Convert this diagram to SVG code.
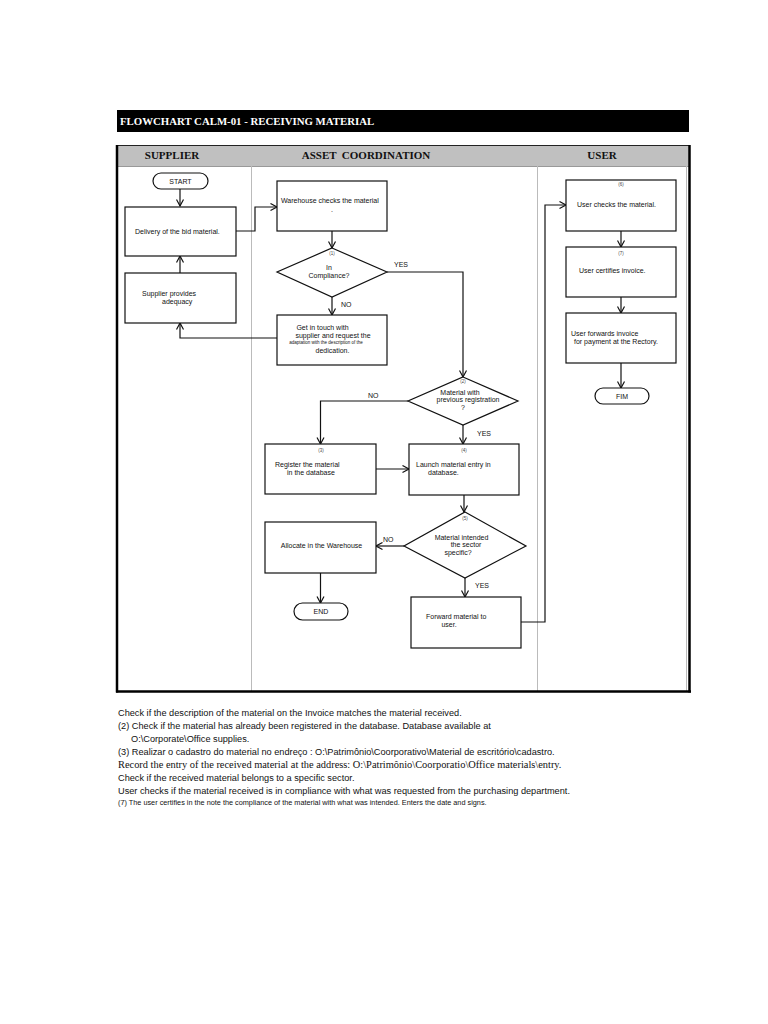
<svg xmlns="http://www.w3.org/2000/svg" width="768" height="1024" viewBox="0 0 768 1024">
<defs>
<marker id="arr" markerWidth="9" markerHeight="9" refX="7.5" refY="4.5" orient="auto" markerUnits="userSpaceOnUse">
<path d="M1,1 L7.5,4.5 L1,8" fill="none" stroke="#111" stroke-width="1.2"/>
</marker>
</defs>
<style>
.box{fill:#fff;stroke:#111;stroke-width:1.2}
.t{font-family:"Liberation Sans",Arial,sans-serif;font-size:7px;fill:#111}
.s{font-family:"Liberation Sans",Arial,sans-serif;font-size:4.5px;fill:#444}
.c{text-anchor:middle}
.lbl{font-family:"Liberation Sans",Arial,sans-serif;font-size:7px;fill:#111}
.hd{font-family:"Liberation Serif","Times New Roman",serif;font-weight:bold;font-size:11px;fill:#111;text-anchor:middle}
.fn{font-family:"Liberation Sans",Arial,sans-serif;font-size:9.2px;fill:#111}
.fns{font-family:"Liberation Serif","Times New Roman",serif;font-size:10.4px;fill:#111}
.conn{fill:none;stroke:#111;stroke-width:1.2}
</style>
<rect width="768" height="1024" fill="#fff"/>

<!-- title -->
<rect x="117" y="110" width="572" height="22" fill="#000"/>
<text x="120" y="125" font-family="Liberation Serif,'Times New Roman',serif" font-weight="bold" font-size="10.8" fill="#fff">FLOWCHART CALM-01 - RECEIVING MATERIAL</text>

<!-- table -->
<rect x="117" y="145" width="572" height="21" fill="#c0c0c0"/>
<line x1="117" y1="145.5" x2="689" y2="145.5" stroke="#222" stroke-width="1"/>
<line x1="117" y1="166.5" x2="689" y2="166.5" stroke="#999" stroke-width="1"/>
<line x1="251.5" y1="166" x2="251.5" y2="691" stroke="#bbb" stroke-width="1"/>
<line x1="537.5" y1="166" x2="537.5" y2="691" stroke="#bbb" stroke-width="1"/>
<line x1="686.5" y1="166" x2="686.5" y2="691" stroke="#bbb" stroke-width="1"/>
<line x1="117" y1="145" x2="117" y2="692.5" stroke="#000" stroke-width="2.5"/>
<line x1="689.5" y1="145" x2="689.5" y2="692.5" stroke="#000" stroke-width="2.5"/>
<line x1="116" y1="691.5" x2="691" y2="691.5" stroke="#000" stroke-width="2.5"/>
<text class="hd" x="172" y="159">SUPPLIER</text>
<text class="hd" x="366" y="159" xml:space="preserve">ASSET  COORDINATION</text>
<text class="hd" x="602" y="159">USER</text>

<!-- connectors -->
<g id="connectors">
<line class="conn" x1="180" y1="189" x2="180" y2="206" marker-end="url(#arr)"/>
<line class="conn" x1="180" y1="273" x2="180" y2="256" marker-end="url(#arr)"/>
<path class="conn" d="M236,231 H255 V207 H277" marker-end="url(#arr)"/>
<line class="conn" x1="332" y1="231" x2="332" y2="248" marker-end="url(#arr)"/>
<path class="conn" d="M387,272 H463 V377" marker-end="url(#arr)"/>
<line class="conn" x1="332" y1="297" x2="332" y2="315" marker-end="url(#arr)"/>
<path class="conn" d="M277,338 H180 V323" marker-end="url(#arr)"/>
<path class="conn" d="M408,401 H320.5 V444" marker-end="url(#arr)"/>
<line class="conn" x1="463" y1="425" x2="463" y2="444" marker-end="url(#arr)"/>
<line class="conn" x1="376" y1="469" x2="409" y2="469" marker-end="url(#arr)"/>
<line class="conn" x1="464" y1="495" x2="464" y2="512" marker-end="url(#arr)"/>
<line class="conn" x1="404" y1="546" x2="376" y2="546" marker-end="url(#arr)"/>
<line class="conn" x1="320.5" y1="573" x2="320.5" y2="603" marker-end="url(#arr)"/>
<line class="conn" x1="465" y1="578" x2="465" y2="597" marker-end="url(#arr)"/>
<path class="conn" d="M521,622 H545 V205 H566" marker-end="url(#arr)"/>
<line class="conn" x1="621" y1="231" x2="621" y2="247" marker-end="url(#arr)"/>
<line class="conn" x1="621" y1="297" x2="621" y2="313" marker-end="url(#arr)"/>
<line class="conn" x1="621" y1="363" x2="621" y2="388" marker-end="url(#arr)"/>
<text class="lbl" x="394" y="267">YES</text>
<text class="lbl" x="341" y="307">NO</text>
<text class="lbl" x="368" y="398">NO</text>
<text class="lbl" x="477" y="436">YES</text>
<text class="lbl" x="383" y="542">NO</text>
<text class="lbl" x="475" y="588">YES</text>
</g>

<!-- supplier -->
<g id="start">
<rect class="box" x="153" y="173" width="55" height="16" rx="8"/>
<text class="t c" x="180.5" y="183.5">START</text>
</g>
<g id="delivery">
<rect class="box" x="125" y="207" width="111" height="49"/>
<text class="t" x="135" y="233.5">Delivery of the bid material.</text>
</g>
<g id="adequacy">
<rect class="box" x="125" y="273" width="111" height="50"/>
<text class="t" x="142" y="296">Supplier provides</text>
<text class="t" x="162" y="304">adequacy</text>
</g>

<!-- asset coordination -->
<g id="warehouse-checks">
<rect class="box" x="277" y="181" width="110" height="50"/>
<text class="t" x="281" y="203">Warehouse checks the material</text>
<text class="t c" x="332" y="212">.</text>
</g>
<g id="in-compliance">
<polygon class="box" points="332,248 387,272 332,297 277,272"/>
<text class="s c" x="332" y="255">(1)</text>
<text class="t c" x="329" y="270">In</text>
<text class="t c" x="329" y="278">Compliance?</text>
</g>
<g id="get-in-touch">
<rect class="box" x="277" y="315" width="110" height="50"/>
<text class="t c" x="322.5" y="329.5">Get in touch with</text>
<text class="t c" x="333" y="338">supplier and request the</text>
<text class="s c" x="326" y="343.5" style="fill:#111">adaptation with the description of the</text>
<text class="t c" x="332.5" y="353">dedication.</text>
</g>
<g id="previous-registration">
<polygon class="box" points="463,377 518,401 463,425 408,401"/>
<text class="s c" x="463" y="383">(2)</text>
<text class="t c" x="460" y="395">Material with</text>
<text class="t c" x="468" y="402">previous registration</text>
<text class="t c" x="463" y="410">?</text>
</g>
<g id="register">
<rect class="box" x="265" y="444" width="111" height="50"/>
<text class="s c" x="321" y="452">(3)</text>
<text class="t" x="275" y="467">Register the material</text>
<text class="t" x="287" y="475">in the database</text>
</g>
<g id="launch">
<rect class="box" x="409" y="444" width="110" height="51"/>
<text class="s c" x="464" y="452">(4)</text>
<text class="t" x="416" y="467">Launch material entry in</text>
<text class="t" x="428" y="475">database.</text>
</g>
<g id="sector-specific">
<polygon class="box" points="465,512 526,546 465,578 404,546"/>
<text class="s c" x="465" y="520">(5)</text>
<text class="t c" x="461.5" y="540">Material intended</text>
<text class="t c" x="466" y="547">the sector</text>
<text class="t c" x="458" y="555">specific?</text>
</g>
<g id="allocate">
<rect class="box" x="265" y="522" width="111" height="51"/>
<text class="t c" x="321.5" y="548">Allocate in the Warehouse</text>
</g>
<g id="end">
<rect class="box" x="294" y="603" width="54" height="17" rx="8.5"/>
<text class="t c" x="321" y="614">END</text>
</g>
<g id="forward">
<rect class="box" x="411" y="597" width="110" height="51"/>
<text class="t" x="426" y="619">Forward material to</text>
<text class="t c" x="449" y="627">user.</text>
</g>

<!-- user -->
<g id="user-checks">
<rect class="box" x="566" y="180" width="110" height="51"/>
<text class="s c" x="621" y="186">(6)</text>
<text class="t" x="577" y="207">User checks the material.</text>
</g>
<g id="user-certifies">
<rect class="box" x="566" y="247" width="110" height="50"/>
<text class="s c" x="621" y="255">(7)</text>
<text class="t" x="579" y="273">User certifies invoice.</text>
</g>
<g id="user-forwards">
<rect class="box" x="566" y="313" width="110" height="50"/>
<text class="t" x="571" y="336">User forwards invoice</text>
<text class="t" x="574" y="344">for payment at the Rectory.</text>
</g>
<g id="fim">
<rect class="box" x="595" y="388" width="54" height="16" rx="8"/>
<text class="t c" x="622" y="398.5">FIM</text>
</g>

<!-- footnotes -->
<text class="fn" x="118" y="716">Check if the description of the material on the Invoice matches the material received.</text>
<text class="fn" x="118" y="729">(2) Check if the material has already been registered in the database. Database available at</text>
<text class="fn" x="131" y="742">O:\Corporate\Office supplies.</text>
<text class="fn" x="118" y="755">(3) Realizar o cadastro do material no endreço : O:\Patrimônio\Coorporativo\Material de escritório\cadastro.</text>
<text class="fns" x="118" y="768">Record the entry of the received material at the address: O:\Patrimônio\Coorporatio\Office materials\entry.</text>
<text class="fn" x="118" y="781">Check if the received material belongs to a specific sector.</text>
<text class="fn" x="118" y="794">User checks if the material received is in compliance with what was requested from the purchasing department.</text>
<text class="fn" x="118" y="805" style="font-size:7.3px">(7) The user certifies in the note the compliance of the material with what was intended. Enters the date and signs.</text>
</svg>
